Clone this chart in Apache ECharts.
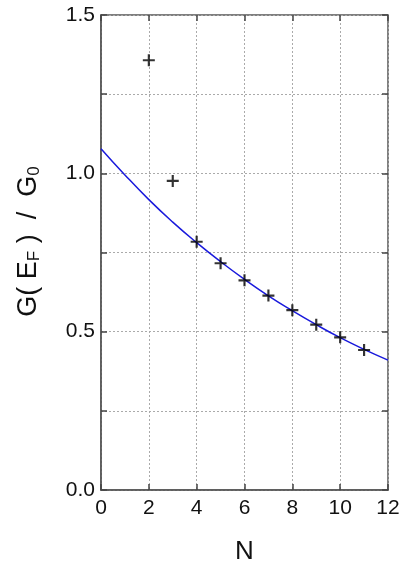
<!DOCTYPE html>
<html><head><meta charset="utf-8">
<script src="https://cdn.jsdelivr.net/npm/echarts@6/dist/echarts.min.js"></script>
<style>html,body{margin:0;padding:0;background:#fff}#c{width:406px;height:563px}</style>
</head><body><div id="c"></div>
<script>
var pointsN = [2, 3, 4, 5, 6, 7, 8, 9, 10, 11];
var pointsG = [1.357, 0.976, 0.784, 0.716, 0.662, 0.614, 0.568, 0.522, 0.482, 0.442];
var curveN = [0, 1, 2, 3, 4, 5, 6, 7, 8, 9, 10, 11, 12];
var curveG = [1.078, 0.995, 0.917, 0.846, 0.781, 0.721, 0.665, 0.613, 0.566, 0.522, 0.481, 0.444, 0.410];
var xTicks = [0, 2, 4, 6, 8, 10, 12];
var yLabels = [0.0, 0.5, 1.0, 1.5];

var FONT = 'Liberation Sans';
var chart = echarts.init(document.getElementById('c'));
var plus = 'path://M4.1,0H5.9V4.1H10V5.9H5.9V10H4.1V5.9H0V4.1H4.1Z';
function ticks() { return {show: true, inside: true, length: 6, lineStyle: {color: '#444', width: 1.5}}; }
function grid() { return {show: true, lineStyle: {color: '#aaa', type: [2, 2], width: 1}}; }
chart.setOption({
  animation: false,
  grid: {left: 101, right: 18, top: 15, bottom: 73, outerBoundsMode: 'none', containLabel: false, show: true, borderColor: '#555', borderWidth: 1.5, backgroundColor: 'transparent'},
  xAxis: [{
    type: 'value', position: 'bottom', min: xTicks[0], max: xTicks[xTicks.length - 1], interval: 2,
    name: 'N', nameLocation: 'middle', nameGap: 49,
    nameTextStyle: {fontFamily: FONT, fontSize: 26, color: '#111'},
    axisLine: {show: true, onZero: false, lineStyle: {color: '#555', width: 1.5}},
    axisTick: ticks(),
    axisLabel: {fontFamily: FONT, fontSize: 21, color: '#111', margin: 8},
    splitLine: grid()
  }, {
    type: 'value', position: 'top', min: xTicks[0], max: xTicks[xTicks.length - 1], interval: 2,
    axisLine: {show: false, onZero: false}, axisTick: ticks(), axisLabel: {show: false}, splitLine: {show: false}
  }],
  yAxis: [{
    type: 'value', position: 'left', min: 0, max: 1.5, interval: 0.25,
    name: '{n|G( E}{s|F}{n| )  /  G}{s|0}', nameLocation: 'middle', nameGap: 58, nameRotate: 90,
    nameTextStyle: {padding: [0, 0, 0, 22], rich: {
      n: {fontFamily: FONT, fontSize: 27, color: '#111'},
      s: {fontFamily: FONT, fontSize: 17, color: '#111', padding: [12, 0, 0, 0]}
    }},
    axisLine: {show: true, onZero: false, lineStyle: {color: '#555', width: 1.5}},
    axisTick: ticks(),
    axisLabel: {fontFamily: FONT, fontSize: 21, color: '#111', margin: 6,
      formatter: function (v) {
        for (var i = 0; i < yLabels.length; i++) if (Math.abs(v - yLabels[i]) < 1e-9) return v.toFixed(1);
        return '';
      }},
    splitLine: grid()
  }, {
    type: 'value', position: 'right', min: 0, max: 1.5, interval: 0.25,
    axisLine: {show: false, onZero: false}, axisTick: ticks(), axisLabel: {show: false}, splitLine: {show: false}
  }],
  series: [{
    type: 'line', smooth: true, symbol: 'none',
    data: curveN.map(function (n, i) { return [n, curveG[i]]; }),
    lineStyle: {color: '#1a1adc', width: 1.5}
  }, {
    type: 'scatter', symbol: plus, symbolSize: 12,
    data: pointsN.map(function (n, i) { return [n, pointsG[i]]; }),
    itemStyle: {color: '#000'}, z: 5
  }]
});
</script></body></html>
